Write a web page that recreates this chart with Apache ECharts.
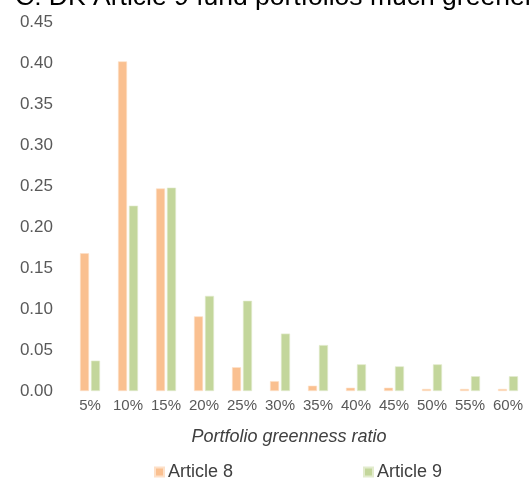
<!DOCTYPE html>
<html lang="en">
<head>
    <meta charset="UTF-8">
    <title>DK Article 9 fund portfolios</title>
    <style>
        body, html {
            margin: 0;
            width: 100%;
            height: 100%;
            background: #fff;
        }
        #container {
            width: 529px;
            height: 480px;
        }
    </style>
    <script src="https://cdn.jsdelivr.net/npm/echarts@6/dist/echarts.min.js"></script>
</head>
<body>
<div id="container"></div>
<script type="text/javascript">
    var categories = ['5%', '10%', '15%', '20%', '25%', '30%', '35%', '40%', '45%', '50%', '55%', '60%'];
    var article8 = [0.168, 0.402, 0.247, 0.091, 0.029, 0.012, 0.0065, 0.004, 0.004, 0.0025, 0.0025, 0.0025];
    var article9 = [0.037, 0.226, 0.248, 0.116, 0.110, 0.070, 0.056, 0.0325, 0.030, 0.0325, 0.018, 0.018];

    var myChart = echarts.init(document.getElementById('container'));
    var font = 'Arial, "Liberation Sans", sans-serif';

    var option = {
        animation: false,
        title: {
            text: 'C: DK Article 9 fund portfolios much greener',
            left: 10,
            top: -21,
            textStyle: {fontFamily: font, fontSize: 26.5, fontWeight: 'normal', color: '#000'}
        },
        legend: [{
            left: 149,
            top: 458,
            itemWidth: 9,
            itemHeight: 9,
            icon: 'rect',
            data: ['Article 8'],
            textStyle: {fontFamily: font, fontSize: 18, color: '#404040', padding: [0, 0, 0, -1]}
        }, {
            left: 358,
            top: 458,
            itemWidth: 9,
            itemHeight: 9,
            icon: 'rect',
            data: ['Article 9'],
            textStyle: {fontFamily: font, fontSize: 18, color: '#404040', padding: [0, 0, 0, -1]}
        }],
        grid: {left: 71, right: 2, top: 22, bottom: 89, containLabel: false},
        xAxis: {
            type: 'category',
            data: categories,
            name: 'Portfolio greenness ratio',
            nameLocation: 'middle',
            nameGap: 37,
            nameTextStyle: {fontFamily: font, fontSize: 18, fontStyle: 'italic', color: '#404040', padding: [0, 20, 0, 0]},
            axisLine: {show: false},
            axisTick: {show: false},
            axisLabel: {fontFamily: font, fontSize: 15, color: '#595959', margin: 7, interval: 0}
        },
        yAxis: {
            type: 'value',
            min: 0,
            max: 0.45,
            interval: 0.05,
            splitLine: {show: false},
            axisLine: {show: false},
            axisTick: {show: false},
            axisLabel: {
                fontFamily: font, fontSize: 17, color: '#595959', margin: 18,
                formatter: function (v) { return v.toFixed(2); }
            }
        },
        series: [{
            name: 'Article 8',
            type: 'bar',
            data: article8,
            barWidth: 9,
            barGap: '22%',
            itemStyle: {color: '#FAC090', borderColor: '#FDE0C8', borderWidth: 0.6}
        }, {
            name: 'Article 9',
            type: 'bar',
            data: article9,
            barWidth: 9,
            itemStyle: {color: '#C3D69B', borderColor: '#E2EBCD', borderWidth: 0.6}
        }]
    };
    myChart.setOption(option);
</script>
</body>
</html>
